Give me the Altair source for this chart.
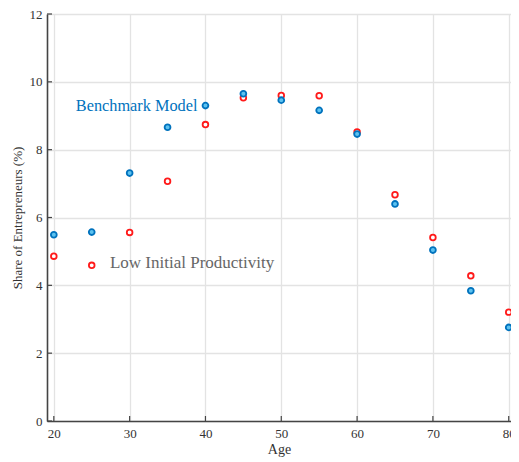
import altair as alt
import pandas as pd

ages = [20, 25, 30, 35, 40, 45, 50, 55, 60, 65, 70, 75, 80]
benchmark = [5.49, 5.57, 7.31, 8.66, 9.30, 9.65, 9.46, 9.16, 8.46, 6.40, 5.04, 3.84, 2.76]
low_prod = [4.86, 4.59, 5.56, 7.07, 8.74, 9.53, 9.60, 9.59, 8.52, 6.67, 5.41, 4.28, 3.21]

x_ticks = [20, 30, 40, 50, 60, 70, 80]
y_ticks = [0, 2, 4, 6, 8, 10, 12]

labels = ["Benchmark Model", "Low Initial Productivity"]
label_x = [22.9, 27.4]
label_y = [9.30, 4.67]

FONT = "'Liberation Serif', 'Times New Roman', Times, serif"
W, H = 464, 407

df_b = pd.DataFrame({"age": ages, "share": benchmark})
df_l = pd.DataFrame({"age": ages, "share": low_prod})

xs = alt.Scale(domain=[19.1, 80.3], nice=False, zero=False)
ys = alt.Scale(domain=[0, 12], nice=False)

x_axis = alt.Axis(values=x_ticks, title="Age", grid=True, gridColor="#e3e3e3", gridWidth=1.3,
                  domainColor="#444", domainWidth=1.6, tickSize=0, labelPadding=6,
                  labelFont=FONT, labelFontSize=13, labelColor="#333",
                  titleFont=FONT, titleFontSize=14, titleFontWeight="normal", titleColor="#333",
                  titlePadding=2)
y_axis = alt.Axis(values=y_ticks, title="Share of Entrepreneurs (%)", grid=True, gridColor="#e3e3e3",
                  gridWidth=1.3, domainColor="#444", domainWidth=1.6, tickSize=0, labelPadding=5,
                  labelFont=FONT, labelFontSize=13, labelColor="#333",
                  titleFont=FONT, titleFontSize=13, titleFontWeight="normal", titleColor="#333",
                  titlePadding=5)

red = alt.Chart(df_l).mark_point(shape="circle", filled=False, color="#ff1a1a", size=32,
                                 strokeWidth=1.8, fill="white", fillOpacity=1, opacity=1).encode(
    x=alt.X("age:Q", scale=xs, axis=x_axis),
    y=alt.Y("share:Q", scale=ys, axis=y_axis),
)
blue = alt.Chart(df_b).mark_point(shape="circle", filled=False, color="#0072bd", size=34,
                                  strokeWidth=1.8, fill="#5cc2f0", fillOpacity=1, opacity=1).encode(
    x=alt.X("age:Q", scale=xs),
    y=alt.Y("share:Q", scale=ys),
)

xt = alt.Chart(pd.DataFrame({"age": x_ticks})).mark_rule(color="#444", strokeWidth=1.2).encode(
    x=alt.X("age:Q", scale=xs), y=alt.value(H), y2=alt.value(H - 5))
yt = alt.Chart(pd.DataFrame({"share": y_ticks})).mark_rule(color="#444", strokeWidth=1.2).encode(
    y=alt.Y("share:Q", scale=ys), x=alt.value(0), x2=alt.value(5))

t1 = alt.Chart(pd.DataFrame({"x": [label_x[0]], "y": [label_y[0]], "t": [labels[0]]})).mark_text(
    align="left", baseline="middle", font=FONT, fontSize=16.3, color="#0072bd").encode(
    x=alt.X("x:Q", scale=xs), y=alt.Y("y:Q", scale=ys), text="t:N")
t2 = alt.Chart(pd.DataFrame({"x": [label_x[1]], "y": [label_y[1]], "t": [labels[1]]})).mark_text(
    align="left", baseline="middle", font=FONT, fontSize=17, color="#666666").encode(
    x=alt.X("x:Q", scale=xs), y=alt.Y("y:Q", scale=ys), text="t:N")

chart = alt.layer(red, blue, xt, yt, t1, t2).properties(
    width=W, height=H, autosize="none",
    padding={"left": 39, "top": 6, "right": 0, "bottom": 40},
).configure_view(stroke=None).configure(background="white", font=FONT)

chart.save("out.html", embed_options={"renderer": "svg", "actions": False})
